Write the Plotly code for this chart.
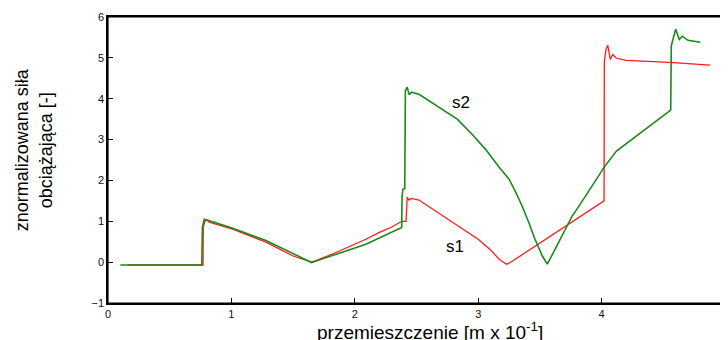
import plotly.graph_objects as go

# s1 (red) trace: displacement [m x 10^-1] and normalised force
s1_x = [0.16, 0.77, 0.772, 0.785, 0.80, 0.82, 1.01, 1.28, 1.50, 1.65,
        1.68, 1.82, 2.09, 2.2, 2.3, 2.38, 2.415, 2.42, 2.425, 2.44, 2.46, 2.52,
        2.6, 2.7, 2.8, 2.9, 3.0, 3.1, 3.17, 3.23, 3.26,
        4.02, 4.022, 4.035, 4.05, 4.07, 4.09, 4.12, 4.2, 4.55, 4.88]
s1_y = [-0.07, -0.07, 0.85, 1.0, 1.03, 0.98, 0.81, 0.49, 0.15, 0.0,
        0.03, 0.2, 0.56, 0.73, 0.86, 1.0, 1.0, 1.4, 1.59, 1.52, 1.56, 1.52,
        1.36, 1.16, 0.97, 0.78, 0.56, 0.3, 0.07, -0.05, -0.01,
        1.5, 4.9, 5.2, 5.31, 4.96, 5.08, 4.99, 4.94, 4.89, 4.82]

# s2 (green) trace
s2_x = [0.10, 0.76, 0.765, 0.78, 0.85, 1.01, 1.28, 1.50, 1.65,
        1.68, 2.09, 2.38, 2.383, 2.39, 2.405, 2.41, 2.425, 2.44, 2.46, 2.52,
        2.68, 2.83, 2.95, 3.06, 3.17, 3.25, 3.30, 3.32, 3.355, 3.41, 3.46, 3.52, 3.56,
        3.61, 3.69, 3.76, 3.81, 3.93, 4.02, 4.12, 4.35, 4.56,
        4.565, 4.6, 4.63, 4.655, 4.7, 4.8]
s2_y = [-0.07, -0.07, 0.85, 1.05, 0.99, 0.83, 0.53, 0.2, -0.01,
        0.02, 0.44, 0.85, 1.6, 1.78, 1.8, 4.2, 4.28, 4.1, 4.16, 4.11,
        3.79, 3.5, 3.13, 2.76, 2.32, 2.03, 1.74, 1.62, 1.38, 0.97, 0.56, 0.15, -0.05,
        0.24, 0.73, 1.12, 1.34, 1.91, 2.32, 2.72, 3.25, 3.72,
        5.3, 5.7, 5.45, 5.53, 5.43, 5.38]

x_ticks = [0, 1, 2, 3, 4, 5]
y_ticks = [-1, 0, 1, 2, 3, 4, 5, 6]

fig = go.Figure()
fig.add_trace(go.Scatter(x=s1_x, y=s1_y, mode="lines",
                         line=dict(color="#ff1a1a", width=1.3), showlegend=False))
fig.add_trace(go.Scatter(x=s2_x, y=s2_y, mode="lines",
                         line=dict(color="#1b8a1b", width=1.6), showlegend=False))

axis_common = dict(showgrid=False, zeroline=False, showline=True, mirror=True,
                   linecolor="#000000", linewidth=1.5, ticks="inside", ticklen=5,
                   tickwidth=1, tickcolor="#000000",
                   tickfont=dict(family="Liberation Sans", size=11, color="#111"))

fig.update_xaxes(range=[0, 5], tickvals=x_ticks, **axis_common)
fig.update_yaxes(range=[-1, 6], tickvals=y_ticks, **axis_common)

# frame around the plot area
fig.add_shape(type="rect", xref="paper", yref="paper", x0=0, x1=1, y0=0, y1=1,
              line=dict(color="#000000", width=1.2), layer="above")

font_main = "Liberation Sans"
# plot area spans screen px 108..727 (x) and 17..303 (y)
fig.add_annotation(text="przemieszczenie [m x 10<sup>-1</sup>]", xref="paper", yref="paper",
                   x=(431 - 108) / 619, y=(303 - 331) / 286, showarrow=False,
                   xanchor="center", yanchor="middle",
                   font=dict(family=font_main, size=19, color="#000"))
fig.add_annotation(text="znormalizowana siła<br>obciążająca [-]", xref="paper", yref="paper",
                   x=(33 - 108) / 619, y=(303 - 150) / 286, showarrow=False, textangle=-90,
                   xanchor="center", yanchor="middle",
                   font=dict(family=font_main, size=18, color="#000"))
fig.add_annotation(text="s2", x=2.86, y=3.91, showarrow=False,
                   font=dict(family=font_main, size=17, color="#000"))
fig.add_annotation(text="s1", x=2.81, y=0.39, showarrow=False,
                   font=dict(family=font_main, size=17, color="#000"))

# page body has an 8px margin, so the figure is offset by 8px
fig.update_layout(width=720, height=332, margin=dict(l=100, r=1, t=9, b=37),
                  plot_bgcolor="white", paper_bgcolor="white")

fig.write_html("out.html")
